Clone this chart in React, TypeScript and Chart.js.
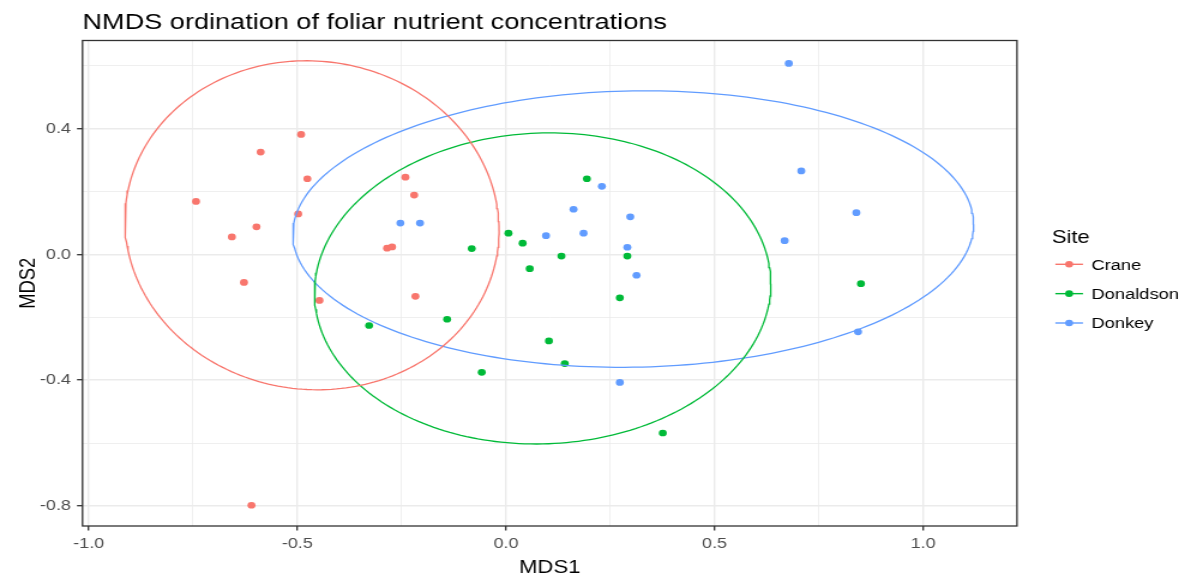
import { useEffect, useRef } from 'react';
import { Chart, registerables } from 'chart.js';

Chart.register(...registerables);

// ---------------- data ----------------
const SITES = ['Crane', 'Donaldson', 'Donkey'];
const SITE_COLORS = ['#F8766D', '#00BA38', '#619CFF'];

const CRANE_MDS1 = [-0.491, -0.588, -0.476, -0.743, -0.498, -0.241, -0.220, -0.598, -0.657, -0.285, -0.273, -0.628, -0.447, -0.217, -0.610];
const CRANE_MDS2 = [0.382, 0.326, 0.241, 0.169, 0.129, 0.246, 0.189, 0.088, 0.056, 0.020, 0.024, -0.089, -0.146, -0.133, -0.798];

const DONALDSON_MDS1 = [0.006, -0.082, 0.040, 0.194, 0.133, 0.291, 0.057, 0.851, 0.273, -0.141, -0.328, 0.103, 0.141, -0.058, 0.376];
const DONALDSON_MDS2 = [0.068, 0.019, 0.036, 0.241, -0.005, -0.005, -0.045, -0.093, -0.138, -0.206, -0.226, -0.275, -0.347, -0.375, -0.568];

const DONKEY_MDS1 = [-0.253, -0.206, 0.678, 0.708, 0.230, 0.162, 0.298, 0.840, 0.096, 0.186, 0.291, 0.668, 0.313, 0.844, 0.273];
const DONKEY_MDS2 = [0.100, 0.100, 0.608, 0.266, 0.217, 0.144, 0.120, 0.133, 0.060, 0.068, 0.023, 0.044, -0.066, -0.246, -0.407];

// 95% ellipse per site: centre, half-width (MDS1), half-height (MDS2), correlation
const ELLIPSE_CX = [-0.465, 0.088, 0.305];
const ELLIPSE_CY = [0.093, -0.108, 0.081];
const ELLIPSE_HALF_W = [0.4485, 0.547, 0.816];
const ELLIPSE_HALF_H = [0.5235, 0.495, 0.440];
const ELLIPSE_R = [-0.03, 0.03, 0.035];

const X_TICKS = [-1.0, -0.5, 0.0, 0.5, 1.0];
const X_MINOR = [-0.75, -0.25, 0.25, 0.75];
const Y_TICKS = [-0.8, -0.4, 0.0, 0.4];
const Y_MINOR = [-0.6, -0.2, 0.2, 0.6];
const X_MIN = -1.015;
const X_MAX = 1.225;
const Y_MIN = -0.864;
const Y_MAX = 0.681;

const TITLE = 'NMDS ordination of foliar nutrient concentrations';
const X_TITLE = 'MDS1';
const Y_TITLE = 'MDS2';
const LEGEND_TITLE = 'Site';

// ---------------- layout ----------------
const W = 993;
const H = 582;
const CSS_W = 1191;
const FONT = "'Liberation Sans', Arial, Helvetica, sans-serif";

const SERIES_X = [CRANE_MDS1, DONALDSON_MDS1, DONKEY_MDS1];
const SERIES_Y = [CRANE_MDS2, DONALDSON_MDS2, DONKEY_MDS2];

function ellipsePath(i: number) {
  const n = 240;
  const r = ELLIPSE_R[i];
  const s = Math.sqrt(1 - r * r);
  const pts: { x: number; y: number }[] = [];
  for (let k = 0; k <= n; k++) {
    const t = (k / n) * Math.PI * 2;
    pts.push({
      x: ELLIPSE_CX[i] + ELLIPSE_HALF_W[i] * Math.cos(t),
      y: ELLIPSE_CY[i] + ELLIPSE_HALF_H[i] * (r * Math.cos(t) + s * Math.sin(t)),
    });
  }
  return pts;
}

const isIn = (v: any, arr: number[]) =>
  typeof v === 'number' && arr.some((m) => Math.abs(m - v) < 1e-9);

const decorations = {
  id: 'ggDecor',
  afterDraw(chart: any) {
    const { ctx, chartArea: a } = chart;
    ctx.save();
    // panel border
    ctx.strokeStyle = '#333333';
    ctx.lineWidth = 1.3;
    ctx.strokeRect(a.left, a.top, a.right - a.left, a.bottom - a.top);

    // title
    ctx.fillStyle = '#000000';
    ctx.textAlign = 'left';
    ctx.textBaseline = 'alphabetic';
    ctx.font = `22.6px ${FONT}`;
    ctx.fillText(TITLE, a.left, 28.7);

    // axis titles
    ctx.font = `18.4px ${FONT}`;
    ctx.textAlign = 'center';
    ctx.fillText(X_TITLE, (a.left + a.right) / 2, 573);
    ctx.save();
    ctx.translate(28.5, (a.top + a.bottom) / 2);
    ctx.rotate(-Math.PI / 2);
    ctx.fillText(Y_TITLE, 0, 0);
    ctx.restore();

    // legend
    const lx = a.right + 29;
    ctx.textAlign = 'left';
    ctx.font = `18.4px ${FONT}`;
    ctx.fillText(LEGEND_TITLE, lx, 243.3);
    ctx.font = `15.3px ${FONT}`;
    SITES.forEach((name, i) => {
      const y = 264.3 + i * 29.35;
      ctx.strokeStyle = SITE_COLORS[i];
      ctx.lineWidth = 1.4;
      ctx.beginPath();
      ctx.moveTo(lx + 3, y);
      ctx.lineTo(lx + 26, y);
      ctx.stroke();
      ctx.fillStyle = SITE_COLORS[i];
      ctx.beginPath();
      ctx.arc(lx + 14.5, y, 3.3, 0, Math.PI * 2);
      ctx.fill();
      ctx.fillStyle = '#000000';
      ctx.textBaseline = 'middle';
      ctx.fillText(name, lx + 33, y + 1);
      ctx.textBaseline = 'alphabetic';
    });
    ctx.restore();
  },
};

export default function App() {
  const ref = useRef<HTMLCanvasElement>(null);

  useEffect(() => {
    const canvas = ref.current;
    if (!canvas) return;

    const pointSets = SITES.map((name, i) => ({
      label: name,
      data: SERIES_X[i].map((x, j) => ({ x, y: SERIES_Y[i][j] })),
      backgroundColor: SITE_COLORS[i],
      borderColor: SITE_COLORS[i],
      pointRadius: 3.35,
      pointBorderWidth: 0,
      showLine: false,
      order: 1,
    }));
    const ellipseSets = SITES.map((name, i) => ({
      label: `${name} ellipse`,
      data: ellipsePath(i),
      borderColor: SITE_COLORS[i],
      backgroundColor: SITE_COLORS[i],
      borderWidth: 1.3,
      pointRadius: 0,
      showLine: true,
      fill: false,
      tension: 0,
      order: 0,
    }));

    const gridCommon = (major: number[]) => ({
      color: '#EBEBEB',
      lineWidth: (c: any) => (isIn(c.tick?.value, major) ? 1.4 : 0.8),
      tickColor: (c: any) => (isIn(c.tick?.value, major) ? '#333333' : 'rgba(0,0,0,0)'),
      tickWidth: 1.3,
      tickLength: 4.6,
      drawTicks: true,
    });

    const chart = new Chart(canvas, {
      type: 'scatter',
      data: { datasets: [...ellipseSets, ...pointSets] as any },
      options: {
        responsive: false,
        maintainAspectRatio: false,
        devicePixelRatio: 1,
        animation: false,
        events: [],
        layout: { padding: { left: 0, top: 40.5, right: W - 847.9, bottom: 0 } },
        plugins: {
          legend: { display: false },
          title: { display: false },
          tooltip: { enabled: false },
        },
        scales: {
          x: {
            type: 'linear',
            min: X_MIN,
            max: X_MAX,
            afterBuildTicks: (s: any) => {
              s.ticks = [...X_TICKS, ...X_MINOR].sort((p, q) => p - q).map((v) => ({ value: v }));
            },
            afterFit: (s: any) => {
              s.height = H - 526;
            },
            border: { display: false },
            grid: gridCommon(X_TICKS) as any,
            ticks: {
              autoSkip: false,
              maxRotation: 0,
              minRotation: 0,
              padding: 4.5,
              color: '#4D4D4D',
              font: { family: FONT, size: 15 },
              callback: (v: any) => (isIn(Number(v), X_TICKS) ? Number(v).toFixed(1) : ''),
            },
          },
          y: {
            type: 'linear',
            min: Y_MIN,
            max: Y_MAX,
            afterBuildTicks: (s: any) => {
              s.ticks = [...Y_TICKS, ...Y_MINOR].sort((p, q) => p - q).map((v) => ({ value: v }));
            },
            afterFit: (s: any) => {
              s.width = 68.8;
            },
            border: { display: false },
            grid: gridCommon(Y_TICKS) as any,
            ticks: {
              autoSkip: false,
              padding: 5,
              color: '#4D4D4D',
              font: { family: FONT, size: 15 },
              callback: (v: any) => (isIn(Number(v), Y_TICKS) ? Number(v).toFixed(1) : ''),
            },
          },
        },
      } as any,
      plugins: [decorations],
    });

    return () => chart.destroy();
  }, []);

  return (
    <div style={{ position: 'absolute', left: 0, top: 0, width: CSS_W, height: H, background: '#ffffff' }}>
      <canvas
        ref={ref}
        width={W}
        height={H}
        style={{ width: `${CSS_W}px`, height: `${H}px`, display: 'block' }}
      />
    </div>
  );
}
